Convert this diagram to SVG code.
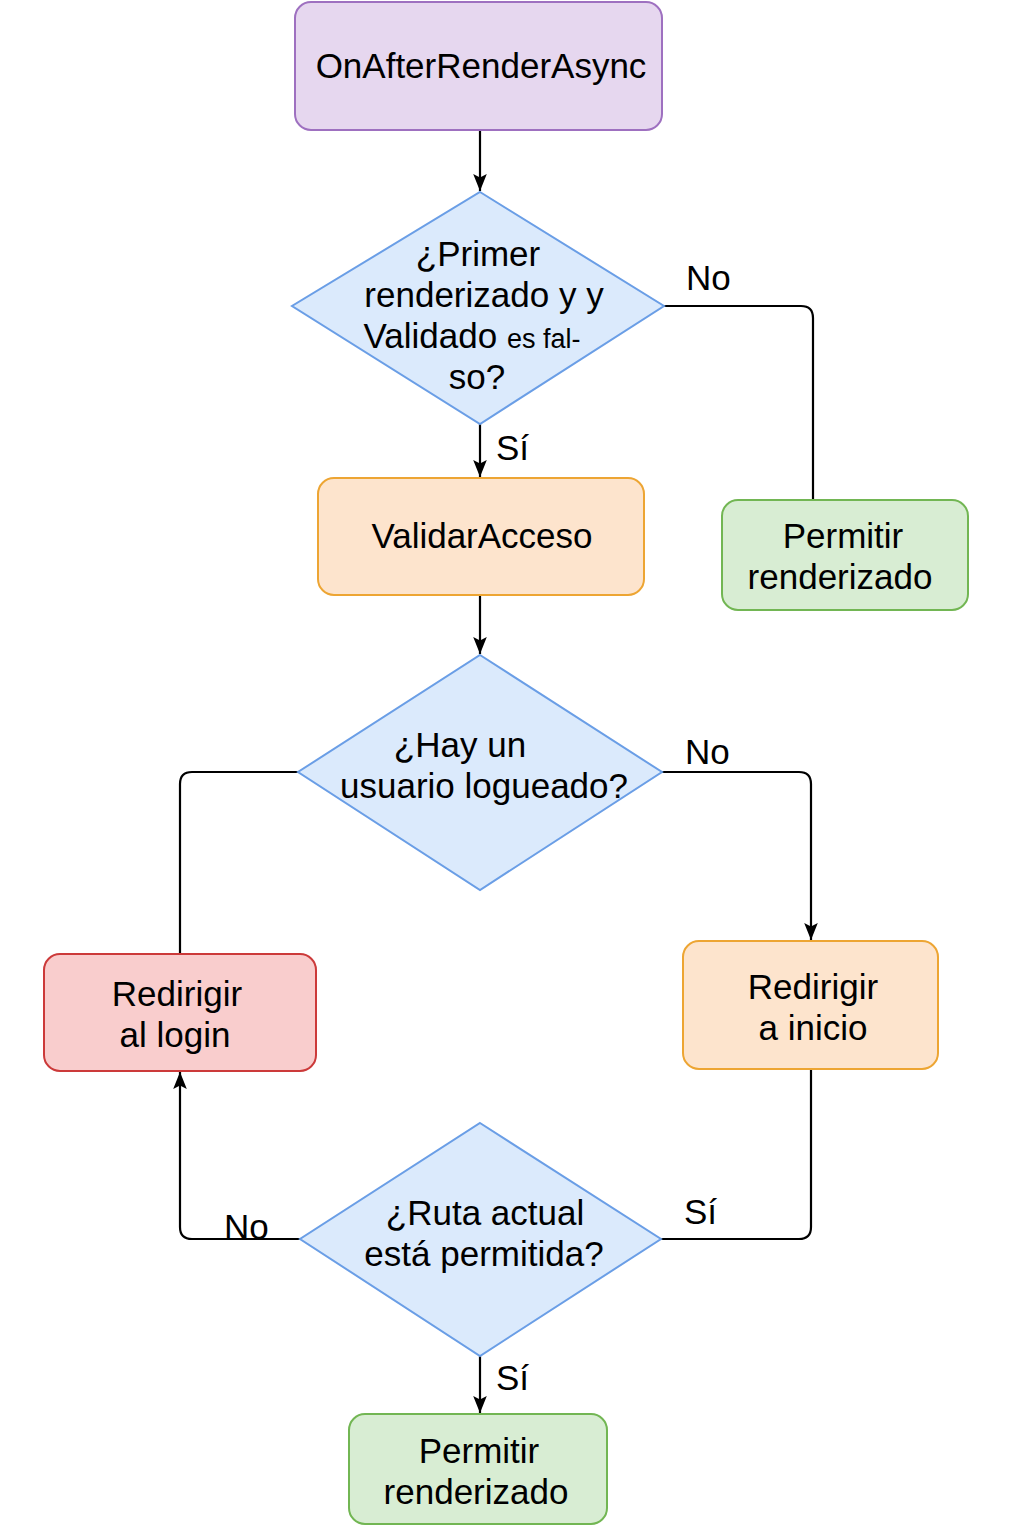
<svg xmlns="http://www.w3.org/2000/svg" width="1024" height="1536" viewBox="0 0 1024 1536">
<defs>
<marker id="arr" viewBox="0 0 10 10" refX="10" refY="5" markerWidth="17" markerHeight="17" markerUnits="userSpaceOnUse" orient="auto">
<path d="M0,1 L10,5 L0,9 L2,5 Z" fill="#000"/>
</marker>
<style>
text{font-family:"Liberation Sans",Arial,sans-serif;font-size:35px;fill:#000;text-anchor:middle}
.lbl{text-anchor:start}
.c{fill:none;stroke:#000;stroke-width:2.2}
.purple{fill:#e6d7ef;stroke:#9e70c0;stroke-width:2}
.blue{fill:#dbeafc;stroke:#6a9ee6;stroke-width:2}
.green{fill:#d8edd3;stroke:#72b653;stroke-width:2}
.orange{fill:#fde4cd;stroke:#eda533;stroke-width:2}
.red{fill:#f9cdcd;stroke:#cc3a3a;stroke-width:2}
</style>
</defs>
<rect width="1024" height="1536" fill="#fff"/>
<g id="connectors">
<path class="c" d="M480,130 V191" marker-end="url(#arr)"/>
<path class="c" d="M664,306 H801 Q813,306 813,318 V500"/>
<path class="c" d="M480,424 V477" marker-end="url(#arr)"/>
<path class="c" d="M480,595 V654" marker-end="url(#arr)"/>
<path class="c" d="M662,772 H799 Q811,772 811,784 V940" marker-end="url(#arr)"/>
<path class="c" d="M298,772 H192 Q180,772 180,784 V954"/>
<path class="c" d="M300,1239 H192 Q180,1239 180,1227 V1072" marker-end="url(#arr)"/>
<path class="c" d="M811,1069 V1227 Q811,1239 799,1239 H661"/>
<path class="c" d="M480,1356 V1413" marker-end="url(#arr)"/>
<text class="lbl" x="686" y="290">No</text>
<text class="lbl" x="496" y="460">Sí</text>
<text class="lbl" x="685" y="764">No</text>
<text class="lbl" x="224" y="1239">No</text>
<text class="lbl" x="684" y="1224">Sí</text>
<text class="lbl" x="496" y="1390">Sí</text>
</g>
<g id="start">
<rect class="purple" x="295" y="2" width="367" height="128" rx="16"/>
<text x="481" y="78">OnAfterRenderAsync</text>
</g>
<g id="d1">
<polygon class="blue" points="480,192 664,306 480,424 292,306"/>
<text x="478" y="266">¿Primer</text>
<text x="484" y="307">renderizado y y</text>
<text x="472" y="348">Validado <tspan font-size="27">es fal-</tspan></text>
<text x="477" y="389">so?</text>
</g>
<g id="permitir1">
<rect class="green" x="722" y="500" width="246" height="110" rx="16"/>
<text x="843" y="548">Permitir</text>
<text x="840" y="589">renderizado</text>
</g>
<g id="validar">
<rect class="orange" x="318" y="478" width="326" height="117" rx="16"/>
<text x="482" y="548">ValidarAcceso</text>
</g>
<g id="d2">
<polygon class="blue" points="480,655 662,772 480,890 298,772"/>
<text x="460" y="757">¿Hay un</text>
<text x="484" y="798">usuario logueado?</text>
</g>
<g id="inicio">
<rect class="orange" x="683" y="941" width="255" height="128" rx="16"/>
<text x="813" y="999">Redirigir</text>
<text x="813" y="1040">a inicio</text>
</g>
<g id="login">
<rect class="red" x="44" y="954" width="272" height="117" rx="16"/>
<text x="177" y="1006">Redirigir</text>
<text x="175" y="1047">al login</text>
</g>
<g id="d3">
<polygon class="blue" points="480,1123 661,1239 480,1356 300,1239"/>
<text x="485" y="1225">¿Ruta actual</text>
<text x="484" y="1266">está permitida?</text>
</g>
<g id="permitir2">
<rect class="green" x="349" y="1414" width="258" height="110" rx="16"/>
<text x="479" y="1463">Permitir</text>
<text x="476" y="1504">renderizado</text>
</g>
</svg>
